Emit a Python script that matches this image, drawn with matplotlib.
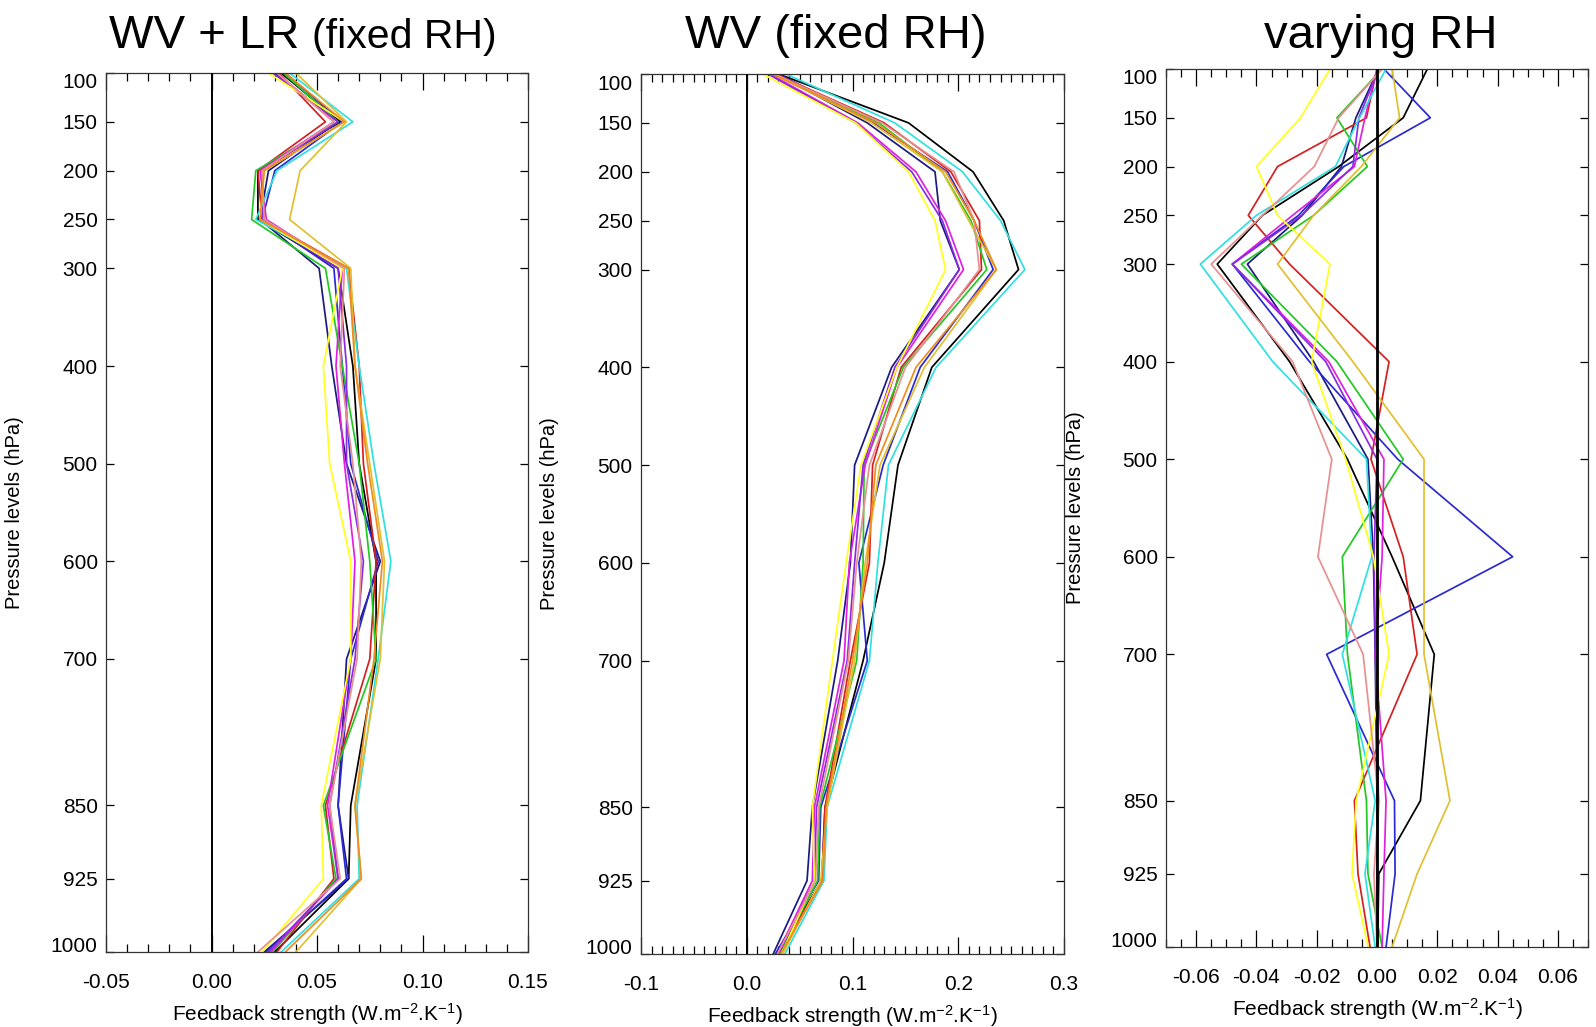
import matplotlib
matplotlib.use("Agg")
import matplotlib.pyplot as plt
import matplotlib.transforms as mtransforms
from matplotlib.ticker import MultipleLocator, FixedLocator

plt.rcParams['font.family'] = ['Liberation Sans', 'DejaVu Sans']
plt.rcParams['mathtext.fontset'] = 'custom'
plt.rcParams['mathtext.rm'] = 'Liberation Sans'
plt.rcParams['mathtext.it'] = 'Liberation Sans:italic'

# ---------------- data ----------------
levels = [100, 150, 200, 250, 300, 400, 500, 600, 700, 850, 925, 1000]
ytick_labels = ['100', '150', '200', '250', '300', '400', '500', '600', '700', '850', '925', '1000']

models = ['black', 'navy', 'blue', 'red', 'green', 'magenta', 'purple',
          'cyan', 'yellow', 'gold', 'pink', 'orange']
model_colors = ['#000000', '#1a1a80', '#2a2ad0', '#d42020', '#22c822', '#e020e0', '#8a2be2',
                '#30e0e0', '#ffff20', '#e0c030', '#e89090', '#f08c1e']

# Panel a: WV + LR (fixed RH)
wvlr_black   = [0.033, 0.061, 0.022, 0.022, 0.060, 0.067, 0.070, 0.078, 0.078, 0.066, 0.065, 0.030]
wvlr_navy    = [0.030, 0.060, 0.027, 0.023, 0.051, 0.057, 0.064, 0.080, 0.064, 0.060, 0.065, 0.025]
wvlr_blue    = [0.035, 0.062, 0.030, 0.024, 0.058, 0.062, 0.066, 0.079, 0.066, 0.060, 0.064, 0.026]
wvlr_red     = [0.032, 0.054, 0.022, 0.024, 0.065, 0.070, 0.072, 0.078, 0.075, 0.054, 0.058, 0.031]
wvlr_green   = [0.034, 0.060, 0.021, 0.019, 0.054, 0.062, 0.070, 0.075, 0.078, 0.053, 0.059, 0.029]
wvlr_magenta = [0.031, 0.058, 0.023, 0.026, 0.062, 0.059, 0.063, 0.068, 0.066, 0.055, 0.060, 0.028]
wvlr_purple  = [0.029, 0.060, 0.024, 0.024, 0.060, 0.064, 0.064, 0.072, 0.068, 0.056, 0.060, 0.027]
wvlr_cyan    = [0.037, 0.067, 0.031, 0.021, 0.064, 0.070, 0.077, 0.085, 0.079, 0.069, 0.070, 0.033]
wvlr_yellow  = [0.027, 0.063, 0.025, 0.023, 0.062, 0.053, 0.056, 0.066, 0.066, 0.052, 0.053, 0.024]
wvlr_gold    = [0.040, 0.064, 0.042, 0.037, 0.066, 0.068, 0.075, 0.082, 0.080, 0.068, 0.071, 0.040]
wvlr_pink    = [0.031, 0.058, 0.024, 0.025, 0.063, 0.061, 0.067, 0.071, 0.069, 0.056, 0.061, 0.022]
wvlr_orange  = [0.035, 0.063, 0.025, 0.023, 0.065, 0.068, 0.074, 0.081, 0.077, 0.068, 0.071, 0.035]

# Panel b: WV (fixed RH)
wv_black   = [0.030, 0.153, 0.214, 0.243, 0.257, 0.175, 0.143, 0.130, 0.110, 0.074, 0.071, 0.028]
wv_navy    = [0.028, 0.114, 0.178, 0.183, 0.201, 0.137, 0.102, 0.098, 0.086, 0.062, 0.057, 0.025]
wv_blue    = [0.030, 0.120, 0.190, 0.215, 0.233, 0.164, 0.129, 0.106, 0.114, 0.070, 0.068, 0.027]
wv_red     = [0.027, 0.130, 0.193, 0.220, 0.222, 0.146, 0.119, 0.116, 0.098, 0.074, 0.071, 0.030]
wv_green   = [0.025, 0.125, 0.185, 0.212, 0.227, 0.148, 0.111, 0.110, 0.104, 0.069, 0.067, 0.031]
wv_magenta = [0.022, 0.105, 0.160, 0.188, 0.205, 0.142, 0.112, 0.097, 0.092, 0.064, 0.062, 0.029]
wv_purple  = [0.020, 0.103, 0.156, 0.185, 0.201, 0.140, 0.110, 0.102, 0.095, 0.066, 0.064, 0.030]
wv_cyan    = [0.037, 0.140, 0.204, 0.240, 0.263, 0.179, 0.134, 0.124, 0.116, 0.076, 0.073, 0.036]
wv_yellow  = [0.015, 0.103, 0.153, 0.178, 0.188, 0.142, 0.108, 0.094, 0.081, 0.062, 0.064, 0.033]
wv_gold    = [0.025, 0.118, 0.185, 0.210, 0.236, 0.168, 0.126, 0.112, 0.102, 0.076, 0.070, 0.034]
wv_pink    = [0.026, 0.128, 0.196, 0.215, 0.220, 0.150, 0.116, 0.104, 0.096, 0.068, 0.065, 0.029]
wv_orange  = [0.024, 0.122, 0.188, 0.215, 0.236, 0.160, 0.122, 0.114, 0.100, 0.075, 0.072, 0.032]

# Panel c: varying RH
rh_black   = [0.0167, 0.0087, -0.0127, -0.038, -0.053, -0.029, -0.0098, 0.005, 0.019, 0.0144, 0.0006, 0.0002]
rh_navy    = [0.0005, -0.007, -0.0118, -0.0248, -0.043, -0.021, -0.003, -0.0012, -0.0006, 0.0000, 0.0000, 0.0000]
rh_blue    = [0.0023, 0.0177, -0.011, -0.026, -0.048, -0.0224, 0.0069, 0.045, -0.0167, 0.0058, 0.006, 0.003]
rh_red     = [0.0000, -0.0035, -0.033, -0.0427, -0.029, 0.004, -0.002, 0.0087, 0.0133, -0.0075, -0.0063, -0.0023]
rh_green   = [0.0017, -0.0133, -0.0032, -0.021, -0.045, -0.0133, 0.0087, -0.0115, -0.0098, -0.0035, -0.003, 0.0017]
rh_magenta = [0.0000, -0.004, -0.0075, -0.028, -0.048, -0.016, 0.0023, 0.0017, -0.0006, 0.003, 0.0023, 0.0017]
rh_purple  = [0.0005, -0.006, -0.008, -0.025, -0.048, -0.017, 0.0000, -0.001, -0.0005, 0.0005, 0.0000, 0.0000]
rh_cyan    = [0.003, -0.0058, -0.0138, -0.040, -0.0586, -0.0346, -0.0035, -0.0017, -0.0115, -0.0006, -0.004, -0.0006]
rh_yellow  = [-0.0156, -0.0254, -0.040, -0.033, -0.0156, -0.0217, -0.0104, -0.0012, 0.004, -0.0069, -0.0083, -0.0029]
rh_gold    = [0.005, 0.0075, -0.0052, -0.021, -0.033, -0.008, 0.0156, 0.0156, 0.0156, 0.0242, 0.0133, 0.005]
rh_pink    = [0.0017, -0.0127, -0.0208, -0.038, -0.055, -0.028, -0.015, -0.0196, -0.0046, 0.0006, -0.001, 0.0000]

panel_a = [wvlr_black, wvlr_navy, wvlr_blue, wvlr_red, wvlr_green, wvlr_magenta, wvlr_purple,
           wvlr_cyan, wvlr_yellow, wvlr_gold, wvlr_pink, wvlr_orange]
panel_b = [wv_black, wv_navy, wv_blue, wv_red, wv_green, wv_magenta, wv_purple,
           wv_cyan, wv_yellow, wv_gold, wv_pink, wv_orange]
panel_c = [rh_black, rh_navy, rh_blue, rh_red, rh_green, rh_magenta, rh_purple,
           rh_cyan, rh_yellow, rh_gold, rh_pink, None]

xlims = [(-0.05, 0.15), (-0.1, 0.3), (-0.07, 0.07)]
xmajor = [0.05, 0.1, 0.02]
xminor = [0.01, 0.01, 0.005]
xfmt = ['%.2f', '%.1f', '%.2f']
zero_lw = [1.4, 1.4, 2.0]

# ---------------- figure ----------------
W, H = 1596, 1027
fig = plt.figure(figsize=(W / 100, H / 100), dpi=100)

# axes boxes in pixels: left, right, top, bottom
boxes = [(106, 528, 73, 952), (641, 1064, 74, 954), (1166, 1588, 69, 947)]
ylab_x = [24, 559, 1085]

axes = []
for i, (l, r, t, b) in enumerate(boxes):
    ax = fig.add_axes([l / W, 1 - b / H, (r - l) / W, (b - t) / H])
    axes.append(ax)
    data = [panel_a, panel_b, panel_c][i]
    for vals, col in zip(data, model_colors):
        if vals is None:
            continue
        ax.plot(vals, levels, color=col, lw=1.25, zorder=2)
    ax.axvline(0, color='black', lw=zero_lw[i], zorder=3)
    ax.set_xlim(*xlims[i])
    ax.set_ylim(1000, 100)
    ax.yaxis.set_major_locator(FixedLocator(levels))
    ax.set_yticklabels(ytick_labels)
    ax.xaxis.set_major_locator(MultipleLocator(xmajor[i]))
    ax.xaxis.set_minor_locator(MultipleLocator(xminor[i]))
    ax.xaxis.set_major_formatter(matplotlib.ticker.FormatStrFormatter(xfmt[i]))
    ax.tick_params(axis='x', which='major', direction='in', length=12, width=0.9,
                   top=True, bottom=True, labelsize=15, pad=15)
    ax.tick_params(axis='x', which='minor', direction='in', length=6, width=0.9,
                   top=True, bottom=True)
    ax.tick_params(axis='y', which='major', direction='in', length=6, width=0.9,
                   left=True, right=True, labelsize=15, pad=6)
    for s in ax.spines.values():
        s.set_linewidth(0.9)
        s.set_color('#333333')
    ax.set_xlabel(r'Feedback strength (W.m$^{\mathrm{-2}}$.K$^{\mathrm{-1}}$)', fontsize=15, labelpad=7)
    ax.set_ylabel('Pressure levels (hPa)', fontsize=14.5)
    ax.yaxis.set_label_coords((ylab_x[i] - l) / (r - l), 0.5)
    # end labels sit slightly inside the axis range
    ylabels = ax.get_yticklabels()
    ylabels[0].set_transform(ylabels[0].get_transform() +
                             mtransforms.ScaledTranslation(0, -8 / 100, fig.dpi_scale_trans))
    ylabels[-1].set_transform(ylabels[-1].get_transform() +
                              mtransforms.ScaledTranslation(0, 7 / 100, fig.dpi_scale_trans))

# titles
fig.canvas.draw()
rend = fig.canvas.get_renderer()
base_y = 1 - 48 / H
t1 = fig.text(109 / W, base_y, 'WV + LR ', fontsize=34, ha='left', va='baseline')
bb = t1.get_window_extent(rend)
fig.text(bb.x1 / W, base_y, '(fixed RH)', fontsize=29.5, ha='left', va='baseline')
fig.text(836 / W, base_y, 'WV (fixed RH)', fontsize=34, ha='center', va='baseline')
fig.text(1381 / W, base_y, 'varying RH', fontsize=34, ha='center', va='baseline')

fig.savefig('out.png', dpi=100)
